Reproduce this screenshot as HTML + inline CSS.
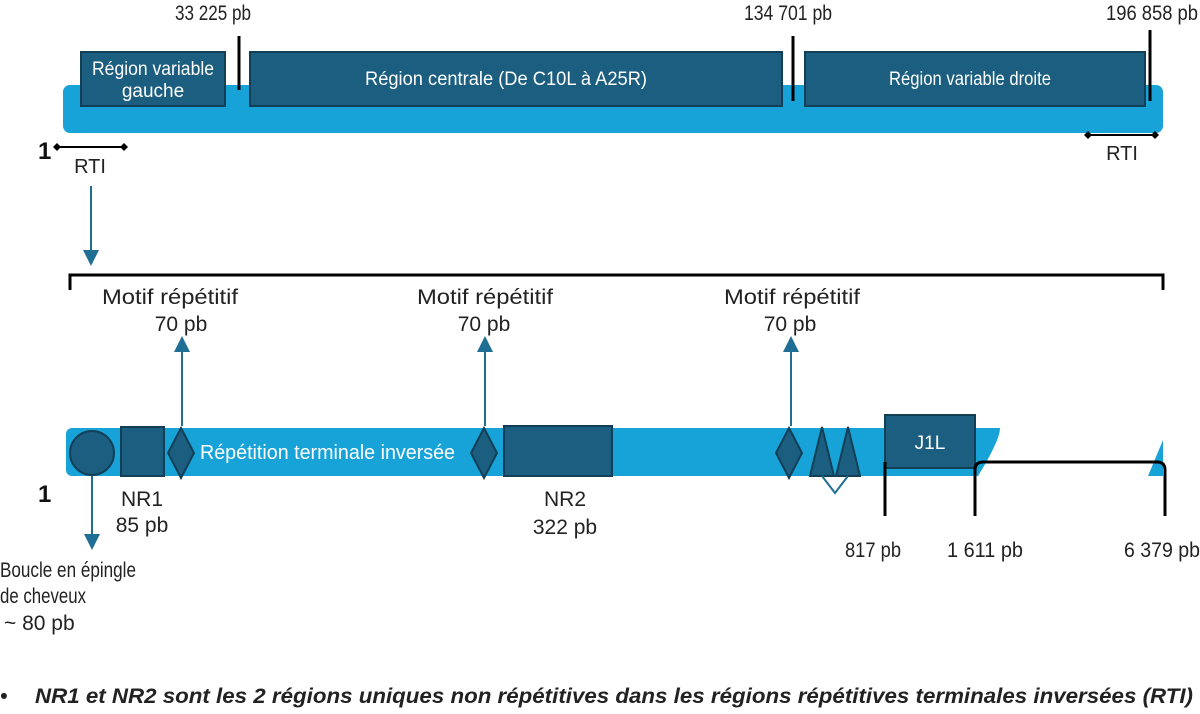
<!DOCTYPE html>
<html><head><meta charset="utf-8"><style>
html,body{margin:0;padding:0;background:#fff;}
svg{display:block;}
text{font-family:"Liberation Sans Narrow","Liberation Sans",sans-serif;fill:#222;}
</style></head><body>
<svg width="1200" height="714" viewBox="0 0 1200 714">
<defs>
<marker id="ah" markerWidth="8" markerHeight="8" refX="4" refY="4" orient="auto"><path d="M0,0 L8,4 L0,8 z" fill="#1f6f94"/></marker>
</defs>
<g>
<rect x="63" y="85" width="1100" height="48" rx="7" fill="#17a2d8"/>
<rect x="81" y="52" width="144" height="54" fill="#1b5e80" stroke="#123f56" stroke-width="2"/>
<text x="153" y="75" font-size="19" text-anchor="middle" textLength="122" lengthAdjust="spacingAndGlyphs" style="fill:#fff">Région variable</text>
<text x="153" y="97" font-size="19" text-anchor="middle" style="fill:#fff">gauche</text>
<rect x="250" y="52" width="532" height="54" fill="#1b5e80" stroke="#123f56" stroke-width="2"/>
<text x="506" y="85" font-size="19" text-anchor="middle" textLength="282" lengthAdjust="spacingAndGlyphs" style="fill:#fff">Région centrale (De C10L à A25R)</text>
<rect x="805" y="52" width="340" height="54" fill="#1b5e80" stroke="#123f56" stroke-width="2"/>
<text x="970" y="85" font-size="19" text-anchor="middle" textLength="162" lengthAdjust="spacingAndGlyphs" style="fill:#fff">Région variable droite</text>
<line x1="239" y1="36" x2="239" y2="90" stroke="#000" stroke-width="3"/>
<line x1="793" y1="36" x2="793" y2="101" stroke="#000" stroke-width="3"/>
<line x1="1150" y1="30" x2="1150" y2="101" stroke="#000" stroke-width="3"/>
<text x="213" y="20" font-size="21" text-anchor="middle" textLength="76" lengthAdjust="spacingAndGlyphs">33 225 pb</text>
<text x="788" y="20" font-size="21" text-anchor="middle" textLength="88" lengthAdjust="spacingAndGlyphs">134 701 pb</text>
<text x="1152" y="20" font-size="21" text-anchor="middle" textLength="92" lengthAdjust="spacingAndGlyphs">196 858 pb</text>
<text x="38" y="159" font-size="24" font-weight="bold" style="fill:#111">1</text>
<line x1="57" y1="147" x2="124" y2="147" stroke="#000" stroke-width="2"/>
<path d="M57,143 l4,4 -4,4 -4,-4z M124,143 l4,4 -4,4 -4,-4z" fill="#000"/>
<text x="90" y="173" font-size="20" text-anchor="middle">RTI</text>
<line x1="1088" y1="135" x2="1155" y2="135" stroke="#000" stroke-width="2"/>
<path d="M1088,131 l4,4 -4,4 -4,-4z M1155,131 l4,4 -4,4 -4,-4z" fill="#000"/>
<text x="1122" y="160" font-size="20" text-anchor="middle">RTI</text>
<line x1="91" y1="186" x2="91" y2="258" stroke="#1f6f94" stroke-width="2" marker-end="url(#ah)"/>
</g>
<path d="M70,290 V275 H1163 V290" fill="none" stroke="#000" stroke-width="3"/>
<g>
<path d="M72,428 H1000 Q1000,440 978,476 H72 a6,6 0 0 1 -6,-6 V434 a6,6 0 0 1 6,-6z" fill="#17a2d8"/>
<path d="M1163,440 V476 H1148z" fill="#17a2d8"/>
<circle cx="92" cy="453" r="22" fill="#1b5e80" stroke="#123f56" stroke-width="2"/>
<rect x="121" y="427" width="43" height="49" fill="#1b5e80" stroke="#123f56" stroke-width="2"/>
<path d="M181,428 L194,453 L181,478 L168,453z" fill="#1b5e80" stroke="#123f56" stroke-width="2"/>
<text x="200" y="459" font-size="20" textLength="255" lengthAdjust="spacingAndGlyphs" style="fill:#fff">Répétition terminale inversée</text>
<path d="M484,428 L497,453 L484,478 L471,453z" fill="#1b5e80" stroke="#123f56" stroke-width="2"/>
<rect x="504" y="426" width="108" height="50" fill="#1b5e80" stroke="#123f56" stroke-width="2"/>
<path d="M789,428 L802,453 L789,478 L776,453z" fill="#1b5e80" stroke="#123f56" stroke-width="2"/>
<path d="M822,427 L834,476 H810z M848,427 L860,476 H836z" fill="#1b5e80" stroke="#123f56" stroke-width="2"/>
<path d="M822,476 L835,493 L848,476" fill="none" stroke="#1f6f94" stroke-width="2"/>
<rect x="885" y="415" width="90" height="53" fill="#1b5e80" stroke="#123f56" stroke-width="2"/>
<text x="930" y="449" font-size="19" text-anchor="middle" style="fill:#fff">J1L</text>
<line x1="885" y1="462" x2="885" y2="516" stroke="#000" stroke-width="3"/>
<path d="M975,516 V470 Q975,462 983,462 H1157 Q1165,462 1165,470 V516" fill="none" stroke="#000" stroke-width="3"/>
<line x1="182" y1="426" x2="182" y2="344" stroke="#1f6f94" stroke-width="2" marker-end="url(#ah)"/>
<line x1="485" y1="426" x2="485" y2="344" stroke="#1f6f94" stroke-width="2" marker-end="url(#ah)"/>
<line x1="791" y1="426" x2="791" y2="344" stroke="#1f6f94" stroke-width="2" marker-end="url(#ah)"/>
<line x1="92" y1="476" x2="92" y2="542" stroke="#1f6f94" stroke-width="2" marker-end="url(#ah)"/>
<g font-size="21" text-anchor="middle">
<text x="170" y="304" textLength="136" lengthAdjust="spacingAndGlyphs">Motif répétitif</text><text x="181" y="331">70 pb</text>
<text x="485" y="304" textLength="136" lengthAdjust="spacingAndGlyphs">Motif répétitif</text><text x="484" y="331">70 pb</text>
<text x="792" y="304" textLength="136" lengthAdjust="spacingAndGlyphs">Motif répétitif</text><text x="790" y="331">70 pb</text>
<text x="142" y="506">NR1</text><text x="142" y="532">85 pb</text>
<text x="565" y="506">NR2</text><text x="565" y="534">322 pb</text>
<text x="873" y="557" textLength="56" lengthAdjust="spacingAndGlyphs">817 pb</text><text x="985" y="557" textLength="76" lengthAdjust="spacingAndGlyphs">1 611 pb</text><text x="1162" y="557" textLength="76" lengthAdjust="spacingAndGlyphs">6 379 pb</text>
</g>
<text x="38" y="502" font-size="24" font-weight="bold" style="fill:#111">1</text>
<g font-size="21"><text x="0" y="577" textLength="136" lengthAdjust="spacingAndGlyphs">Boucle en épingle</text><text x="0" y="603" textLength="86" lengthAdjust="spacingAndGlyphs">de cheveux</text><text x="4" y="630">~ 80 pb</text></g>
</g>
<text x="0" y="703" font-size="21" font-weight="bold" font-style="italic">•<tspan x="35" textLength="1158" lengthAdjust="spacingAndGlyphs">NR1 et NR2 sont les 2 régions uniques non répétitives dans les régions répétitives terminales inversées (RTI)</tspan></text>
</svg>
</body></html>
